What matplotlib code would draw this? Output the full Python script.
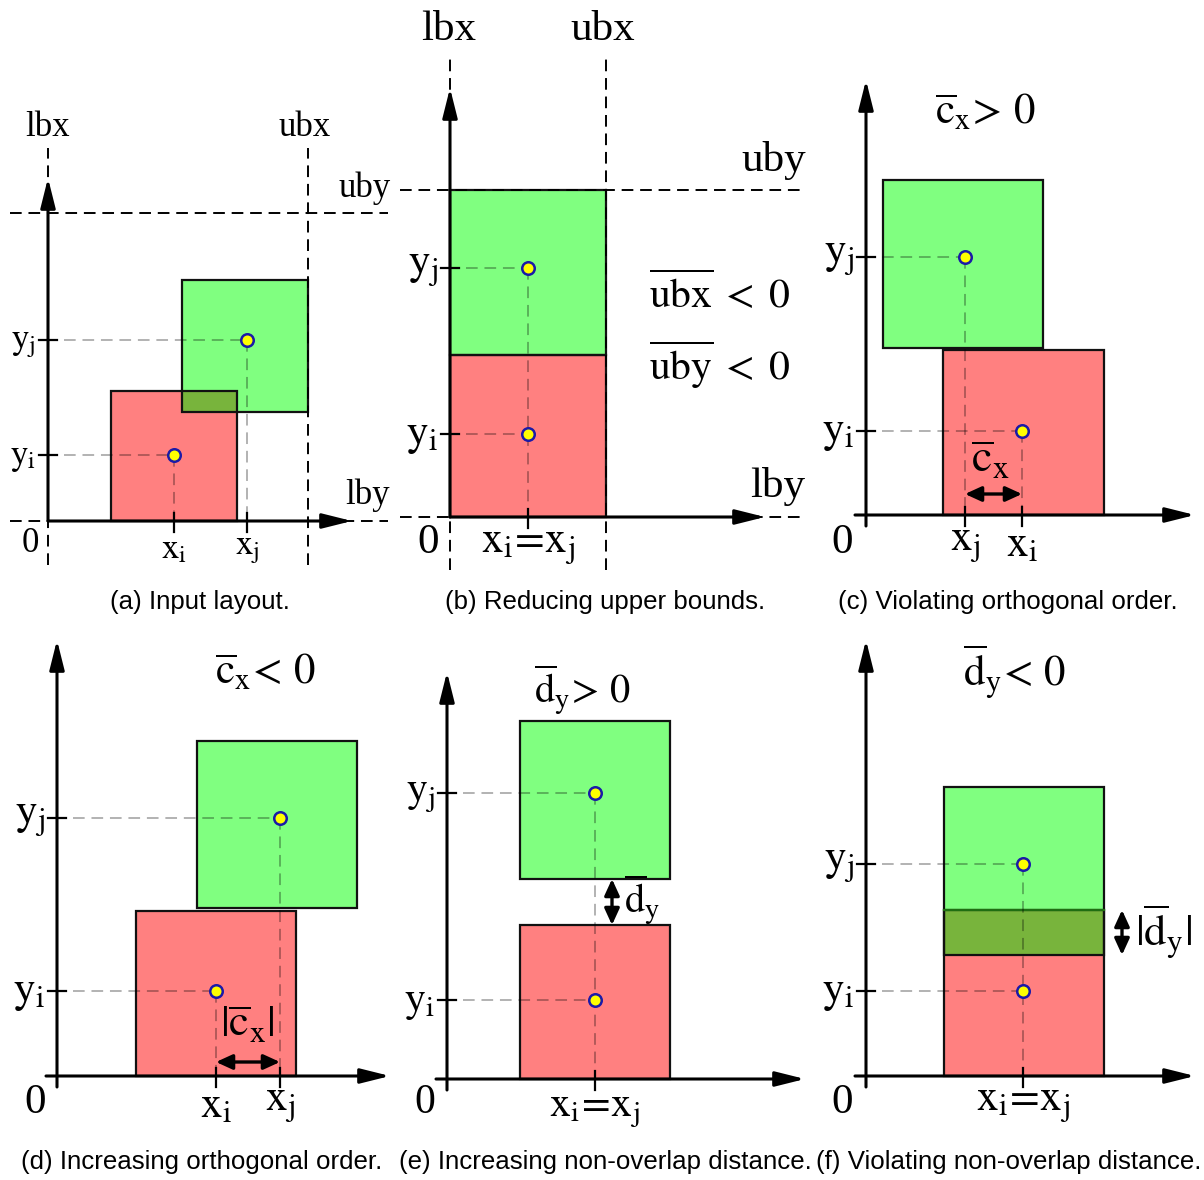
import matplotlib
matplotlib.use('Agg')
import matplotlib.pyplot as plt
from matplotlib.patches import Rectangle

plt.rcParams['mathtext.fontset'] = 'stix'
plt.rcParams['font.family'] = ['Liberation Serif', 'DejaVu Serif']

W, H = 1204, 1180

# ---------------- data (panel-local units, y up, origin at axis crossing) ----
panels = ['a', 'b', 'c', 'd', 'e', 'f']
captions = ['(a) Input layout.', '(b) Reducing upper bounds.', '(c) Violating orthogonal order.',
            '(d) Increasing orthogonal order.', '(e) Increasing non-overlap distance.',
            '(f) Violating non-overlap distance.']
# rectangles as (x0, x1, y0, y1)
rect_i = {'a': (63, 189, 0, 130), 'b': (0, 156, 0, 162), 'c': (77, 238, 0, 165),
          'd': (79, 239, 0, 165), 'e': (73, 223, 0, 154), 'f': (78, 238, 0, 166)}
rect_j = {'a': (134, 260, 109, 241), 'b': (0, 156, 162, 327), 'c': (17, 177, 167, 335),
          'd': (140, 300, 168, 335), 'e': (73, 223, 200, 358), 'f': (78, 238, 121, 289)}
center_i = {'a': (126, 66), 'b': (78, 83), 'c': (156, 84), 'd': (159, 85), 'e': (148, 79), 'f': (157, 85)}
center_j = {'a': (199, 181), 'b': (78, 249), 'c': (99, 258), 'd': (223, 258), 'e': (148, 286), 'f': (157, 212)}
# bounds (panels a, b)
ubx = {'a': 260, 'b': 156}
uby = {'a': 308, 'b': 327}
# labels
xi_lab = r'$\mathrm{x}_\mathrm{i}$'
xj_lab = r'$\mathrm{x}_\mathrm{j}$'
xeq_lab = r'$\mathrm{x}_\mathrm{i}\!=\!\mathrm{x}_\mathrm{j}$'
yi_lab = r'$\mathrm{y}_\mathrm{i}$'
yj_lab = r'$\mathrm{y}_\mathrm{j}$'
top_labels = {'c': r'$\overline{\mathrm{c}}_\mathrm{x}\!>\!\ 0$',
              'd': r'$\overline{\mathrm{c}}_\mathrm{x}\!<\!\ 0$',
              'e': r'$\overline{\mathrm{d}}_\mathrm{y}\!>\!\ 0$',
              'f': r'$\overline{\mathrm{d}}_\mathrm{y}\!<\!\ 0$'}
gap_labels = {'c': r'$\overline{\mathrm{c}}_\mathrm{x}$', 'd': r'$|\overline{\mathrm{c}}_\mathrm{x}|$',
              'e': r'$\overline{\mathrm{d}}_\mathrm{y}$', 'f': r'$|\overline{\mathrm{d}}_\mathrm{y}|$'}
b_conditions = [r'$\overline{\mathrm{ubx}}\;<\;0$', r'$\overline{\mathrm{uby}}\;<\;0$']

# ---------------- layout / style ----------------
origins = {'a': (48, 521), 'b': (450, 517), 'c': (866, 515),
           'd': (57, 1076), 'e': (447, 1079), 'f': (866, 1076)}
tips = {'a': (304, 343), 'b': (315, 429), 'c': (329, 435), 'd': (333, 436), 'e': (358, 407), 'f': (329, 436)}
fs_lab = {'a': 25, 'b': 31, 'c': 31, 'd': 31, 'e': 30, 'f': 31}
cap_pos = {'a': (200, 602), 'b': (605, 602), 'c': (1008, 602),
           'd': (202, 1162), 'e': (605, 1162), 'f': (1009, 1162)}
GREEN, RED, OLIVE = '#80ff80', '#ff8080', '#78b43c'

fig = plt.figure(figsize=(W / 100, H / 100), dpi=100)


def arrow(ax, p0, p1, style='-|>,head_length=1.2,head_width=0.3', lw=2.2, ms=15):
    ax.annotate('', xy=p1, xytext=p0, zorder=6,
                arrowprops=dict(arrowstyle=style, lw=lw, color='k', mutation_scale=ms,
                                shrinkA=0, shrinkB=0))


for p in panels:
    ox, oy = origins[p]
    ax = fig.add_axes([0, 0, 1, 1])
    ax.set_xlim(-ox, W - ox)
    ax.set_ylim(-(H - oy), oy)
    ax.axis('off')
    ax.patch.set_alpha(0)

    ri, rj = rect_i[p], rect_j[p]
    for r, col in ((ri, RED), (rj, GREEN)):
        ax.add_patch(Rectangle((r[0], r[2]), r[1] - r[0], r[3] - r[2], fc=col, ec='none', zorder=1))
    # overlap
    x0, x1 = max(ri[0], rj[0]), min(ri[1], rj[1])
    y0, y1 = max(ri[2], rj[2]), min(ri[3], rj[3])
    if x1 > x0 and y1 > y0:
        ax.add_patch(Rectangle((x0, y0), x1 - x0, y1 - y0, fc=OLIVE, ec='none', zorder=2))
    for r in (ri, rj):
        ax.add_patch(Rectangle((r[0], r[2]), r[1] - r[0], r[3] - r[2], fill=False, ec='#111111',
                               lw=1.6, zorder=3))
    if p == 'f':
        ax.plot([x0, x1], [y1, y1], color='#1f6e12', lw=1.6, zorder=3.5)

    fs = fs_lab[p]
    # bounds
    if p in ubx:
        xr = (-38, 340) if p == 'a' else (-50, 350)
        yr = (-44, 373) if p == 'a' else (-53, 462)
        kw = dict(color='k', lw=1.4, dashes=[6, 3.5], zorder=4)
        ax.plot([0, 0], yr, **kw)
        ax.plot([ubx[p], ubx[p]], yr, **kw)
        ax.plot(xr, [0, 0], **kw)
        ax.plot(xr, [uby[p], uby[p]], **kw)
        if p == 'a':
            pos = {'lbx': (0, 393), 'ubx': (257, 393), 'uby': (317, 333), 'lby': (320, 26)}
        else:
            pos = {'lbx': (-1, 487), 'ubx': (153, 487), 'uby': (324, 357), 'lby': (328, 30)}
        for k, (tx, ty) in pos.items():
            ax.text(tx, ty, k, fontsize=fs, ha='center', va='center')

    # axes
    ext = 0 if p in ubx else -11
    arrow(ax, (ext, 0), (tips[p][0], 0))
    arrow(ax, (0, ext), (0, tips[p][1]))

    # guide lines
    gkw = dict(color='k', alpha=0.3, lw=1.4, dashes=[6, 3.5], zorder=4)
    vdone = {}
    for (cx, cy) in (center_i[p], center_j[p]):
        ax.plot([16, cx], [cy, cy], **gkw)
        vdone[cx] = max(vdone.get(cx, 0), cy)
    for cx, cy in vdone.items():
        ax.plot([cx, cx], [cy, 0], **gkw)

    # ticks + labels
    for (cx, cy), lab in ((center_i[p], yi_lab), (center_j[p], yj_lab)):
        ax.plot([-9, 9], [cy, cy], color='k', lw=1.6, zorder=5)
        ax.text(-12, cy - 3, lab, fontsize=fs, ha='right', va='center')
    if center_i[p][0] == center_j[p][0]:
        xs = [(center_i[p][0], xeq_lab)]
    else:
        xs = [(center_i[p][0], xi_lab), (center_j[p][0], xj_lab)]
    for cx, lab in xs:
        ax.plot([cx, cx], [-11, 8], color='k', lw=1.6, zorder=5)
        ax.text(cx, -12, lab, fontsize=fs, ha='center', va='top')
    zoff = {'a': (-18, -22), 'b': (-22, -26), 'c': (-24, -28), 'd': (-22, -27), 'e': (-22, -24), 'f': (-24, -27)}
    ax.text(zoff[p][0], zoff[p][1], '0', fontsize=fs, ha='center', va='center')

    # markers
    for (cx, cy) in (center_i[p], center_j[p]):
        ax.plot(cx, cy, 'o', ms=9, mfc='#ffff00', mec='#1a1aa8', mew=1.8, zorder=7)

    # panel-specific annotations
    top_pos = {'c': (119, 402), 'd': (208, 403), 'e': (136, 389), 'f': (149, 404)}
    top_fs = {'c': 31, 'd': 31, 'e': 29, 'f': 31}
    if p in top_labels:
        ax.text(*top_pos[p], top_labels[p], fontsize=top_fs[p], ha='center', va='center')
    if p == 'b':
        ax.text(270, 222, b_conditions[0], fontsize=30, ha='center', va='center')
        ax.text(270, 152, b_conditions[1], fontsize=30, ha='center', va='center')
    dbl = '<|-|>,head_length=0.7,head_width=0.32'
    gap_fs = {'c': 33, 'd': 32, 'e': 29, 'f': 32}
    if p in ('c', 'd'):
        xa, xb = sorted([center_i[p][0], center_j[p][0]])
        yy = {'c': 21, 'd': 14}[p]
        arrow(ax, (xa, yy), (xb, yy), style=dbl, lw=2.4, ms=14)
        gp = {'c': (124, 53), 'd': (190, 51)}[p]
        ax.text(*gp, gap_labels[p], fontsize=gap_fs[p], ha='center', va='center')
    if p in ('e', 'f'):
        ya = min(rect_i[p][3], rect_j[p][2])
        yb = max(rect_i[p][3], rect_j[p][2])
        xx = {'e': 165, 'f': 256}[p]
        arrow(ax, (xx, ya), (xx, yb), style=dbl, lw=2.4, ms=14)
        gp = {'e': (195, 179), 'f': (298, 144)}[p]
        ax.text(*gp, gap_labels[p], fontsize=gap_fs[p], ha='center', va='center')

    cx_, cy_ = cap_pos[p]
    fig.text(cx_ / W, 1 - cy_ / H, captions[panels.index(p)], fontsize=18.6, ha='center', va='center',
             family=['Liberation Sans', 'DejaVu Sans'])

fig.savefig('out.png', dpi=100)
